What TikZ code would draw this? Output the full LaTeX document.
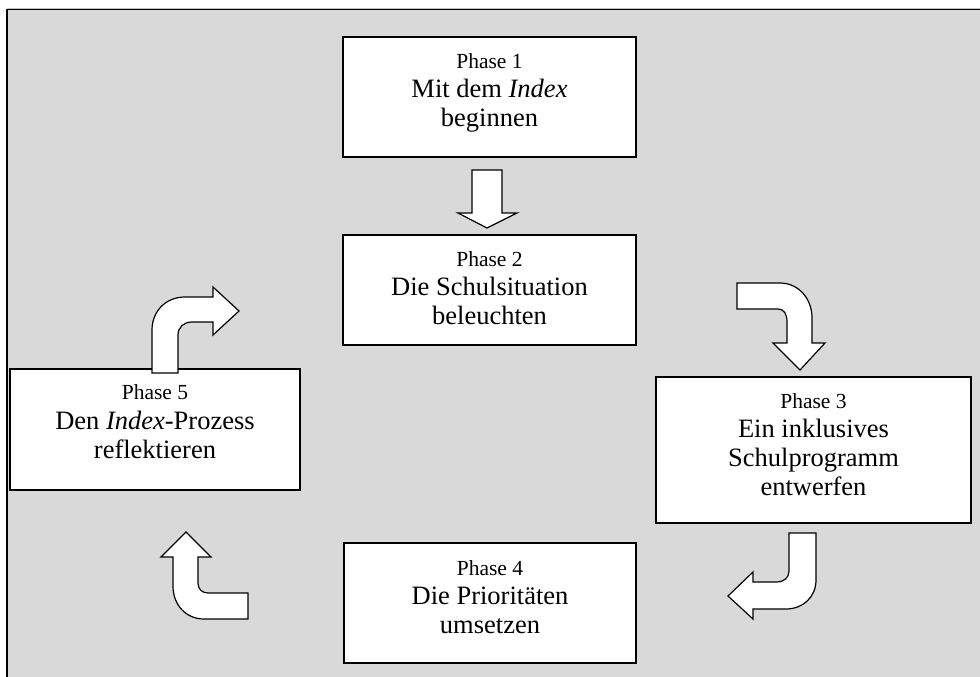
\documentclass[tikz,border=0pt]{standalone}
\usepackage{fontspec}
\setmainfont{Liberation Serif}
\tikzset{
  phasebox/.style={draw=black, line width=1.5pt, fill=white},
  phaselbl/.style={anchor=base, inner sep=0pt, font=\fontsize{21.5}{25}\selectfont},
  mainlbl/.style={anchor=base, inner sep=0pt, font=\fontsize{26.5}{29}\selectfont},
  blockarrow/.style={draw=black, line width=1.2pt, fill=white, line join=miter},
}
\begin{document}
\begin{tikzpicture}[x=1pt,y=-1pt]
\useasboundingbox (0,0) rectangle (980,677);
\fill[white] (0,0) rectangle (980,677);
\fill[gray!30] (7,9) rectangle (980,677);
\draw[black!25, line width=0.8pt] (7,8) -- (980,8);
\draw[black, line width=1.5pt] (7,677) -- (7,9.5) -- (980,9.5);

% boxes
\draw[phasebox] (343,37) rectangle (636,157);
\node (b1) at (489.5,97) {};
\draw[phasebox] (343,235) rectangle (636,345);
\node (b2) at (489.5,290) {};
\draw[phasebox] (656,377) rectangle (971,523);
\node (b3) at (813.5,450) {};
\draw[phasebox] (344,543) rectangle (636,663);
\node (b4) at (490,603) {};
\draw[phasebox] (10,369) rectangle (300,490);
\node (b5) at (155,429.5) {};

% texts
\node[phaselbl] (t1a) at (489.5,69) {Phase 1};
\node[mainlbl] (t1b) at (489.5,98) {Mit dem \textit{Index}};
\node[mainlbl] (t1c) at (489.5,126) {beginnen};

\node[phaselbl] (t2a) at (489.5,266) {Phase 2};
\node[mainlbl] (t2b) at (489.5,295) {Die Schulsituation};
\node[mainlbl] (t2c) at (489.5,324) {beleuchten};

\node[phaselbl] (t3a) at (813.5,408) {Phase 3};
\node[mainlbl] (t3b) at (813.5,437) {Ein inklusives};
\node[mainlbl] (t3c) at (813.5,466) {Schulprogramm};
\node[mainlbl] (t3d) at (813.5,495) {entwerfen};

\node[phaselbl] (t4a) at (490,575) {Phase 4};
\node[mainlbl] (t4b) at (490,604) {Die Prioritäten};
\node[mainlbl] (t4c) at (490,633) {umsetzen};

\node[phaselbl] (t5a) at (155,399) {Phase 5};
\node[mainlbl] (t5b) at (155,429) {Den \textit{Index}-Prozess};
\node[mainlbl] (t5c) at (155,458) {reflektieren};

% arrow 1 -> 2 (straight down)
\draw[blockarrow] (472,170) -- (502,170) -- (502,213) -- (517,213) -- (487,228)
  -- (458,213) -- (472,213) -- cycle;

% arrow 2 -> 3
\draw[blockarrow] (737,283) -- (780,283) .. controls (798,283) and (812,298) .. (812,318)
  -- (812,343) -- (825,343) -- (800,370) -- (773,343) -- (787,343) -- (787,322)
  .. controls (787,314) and (784,309) .. (778,309) -- (737,309) -- cycle;

% arrow 3 -> 4
\draw[blockarrow] (789,533) -- (816,533) -- (816,580) .. controls (816,597) and (803,609) .. (786,609)
  -- (753,609) -- (753,619) -- (728,596) -- (753,572) -- (753,582) -- (776,582)
  .. controls (784,582) and (789,578) .. (789,571) -- cycle;

% arrow 4 -> 5
\draw[blockarrow] (248,619) -- (204,619) .. controls (186,619) and (173,605) .. (173,586)
  -- (173,557) -- (161,557) -- (186,532) -- (211,557) -- (198,557) -- (198,583)
  .. controls (198,589) and (202,593) .. (208,593) -- (248,593) -- cycle;

% arrow 5 -> 2
\draw[blockarrow] (152,373) -- (152,330) .. controls (152,311) and (166,297) .. (185,297)
  -- (213,297) -- (213,287) -- (239,311) -- (213,335) -- (213,322) -- (192,322)
  .. controls (184,322) and (178,327) .. (178,335) -- (178,373) -- cycle;
\end{tikzpicture}
\end{document}
